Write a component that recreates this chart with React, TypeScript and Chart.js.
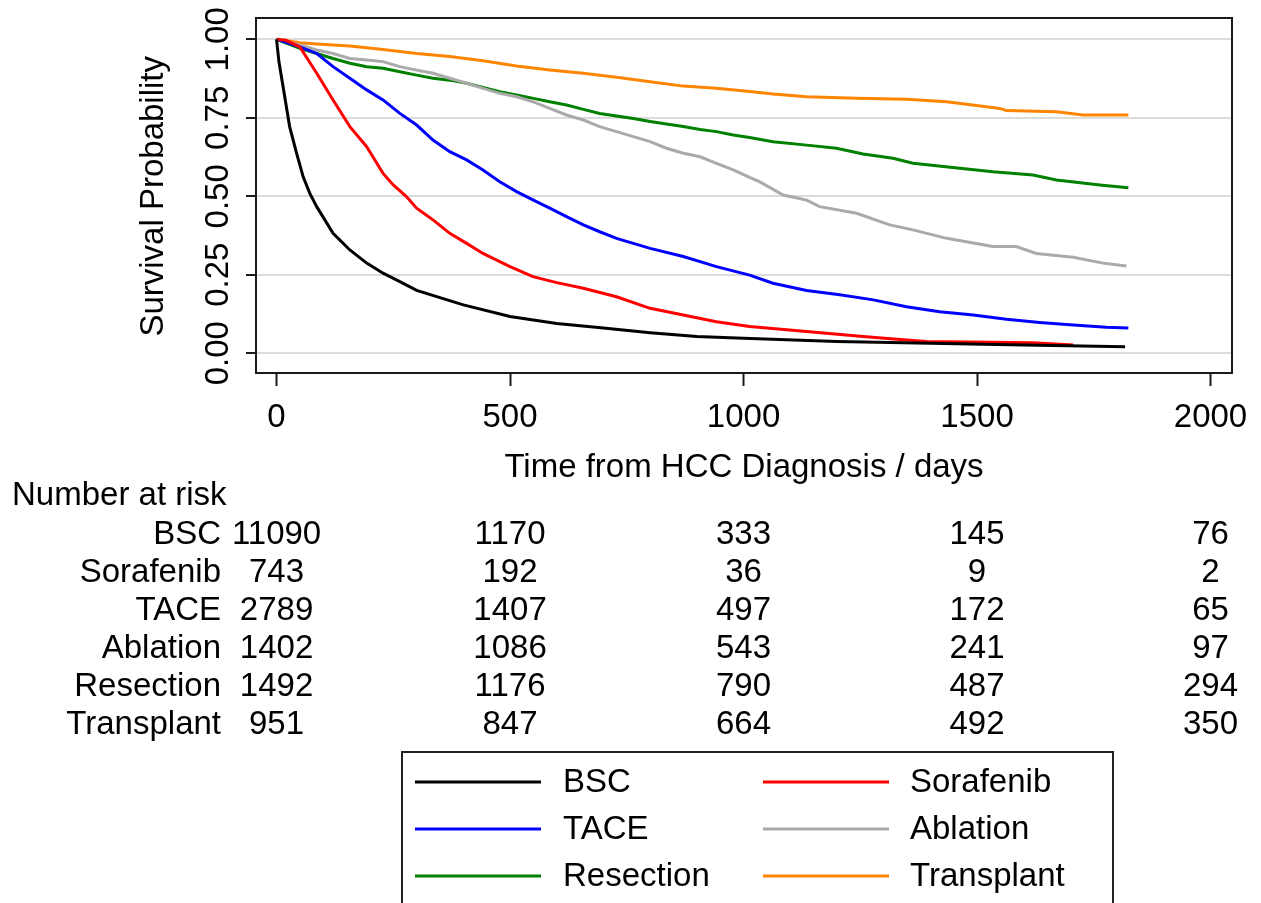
import React, { useEffect, useRef } from "react";
import { Chart, registerables } from "chart.js";

Chart.register(...registerables);

const FONT = '"Liberation Sans", Arial, Helvetica, sans-serif';

// ---- Series data ----
const seriesNames = ["BSC", "Sorafenib", "TACE", "Ablation", "Resection", "Transplant"];
const seriesColors = ["#000000", "#ff0000", "#0000ff", "#aaaaaa", "#008000", "#ff8400"];

const bscTime = [0, 5, 14, 28, 43, 57, 71, 86, 121, 157, 193, 228, 264, 300, 400, 500, 600, 700, 800, 900, 1000, 1200, 1400, 1600, 1817];
const bscSurv = [1.0, 0.93, 0.849, 0.722, 0.637, 0.562, 0.51, 0.467, 0.382, 0.329, 0.287, 0.255, 0.228, 0.2, 0.154, 0.117, 0.095, 0.08, 0.065, 0.053, 0.048, 0.037, 0.032, 0.026, 0.021];

const sorafenibTime = [0, 20, 50, 86, 121, 157, 193, 228, 250, 278, 300, 335, 371, 407, 442, 500, 549, 600, 657, 728, 800, 871, 942, 1013, 1135, 1256, 1349, 1392, 1620, 1706];
const sorafenibSurv = [1.0, 0.997, 0.976, 0.892, 0.807, 0.722, 0.658, 0.573, 0.536, 0.499, 0.462, 0.425, 0.382, 0.35, 0.318, 0.276, 0.244, 0.225, 0.207, 0.18, 0.143, 0.122, 0.1, 0.085, 0.069, 0.053, 0.042, 0.037, 0.033, 0.026];

const taceTime = [0, 50, 86, 121, 157, 193, 228, 264, 300, 335, 371, 407, 442, 478, 514, 550, 585, 621, 657, 692, 728, 764, 800, 871, 942, 1013, 1063, 1135, 1206, 1278, 1349, 1420, 1492, 1563, 1634, 1706, 1777, 1824];
const taceSurv = [1.0, 0.976, 0.955, 0.913, 0.876, 0.839, 0.807, 0.764, 0.727, 0.679, 0.642, 0.616, 0.584, 0.546, 0.515, 0.488, 0.462, 0.435, 0.409, 0.387, 0.366, 0.35, 0.334, 0.308, 0.276, 0.249, 0.223, 0.2, 0.186, 0.17, 0.148, 0.132, 0.122, 0.108, 0.098, 0.09, 0.083, 0.08];

const ablationTime = [0, 50, 86, 121, 157, 193, 228, 264, 300, 335, 371, 407, 442, 478, 514, 550, 585, 621, 657, 692, 728, 764, 800, 835, 871, 907, 942, 978, 1013, 1035, 1085, 1135, 1163, 1242, 1313, 1363, 1435, 1534, 1584, 1627, 1706, 1770, 1820];
const ablationSurv = [1.0, 0.982, 0.966, 0.955, 0.939, 0.934, 0.929, 0.913, 0.902, 0.892, 0.876, 0.86, 0.844, 0.828, 0.817, 0.801, 0.78, 0.759, 0.743, 0.722, 0.706, 0.69, 0.674, 0.653, 0.637, 0.626, 0.605, 0.584, 0.56, 0.546, 0.504, 0.488, 0.467, 0.446, 0.409, 0.393, 0.366, 0.34, 0.34, 0.318, 0.306, 0.287, 0.278];

const resectionTime = [0, 50, 86, 121, 157, 193, 228, 264, 300, 335, 371, 407, 442, 478, 514, 550, 585, 621, 657, 692, 728, 764, 800, 835, 871, 907, 942, 978, 1013, 1063, 1135, 1199, 1256, 1320, 1363, 1463, 1534, 1620, 1670, 1763, 1824];
const resectionSurv = [1.0, 0.971, 0.955, 0.939, 0.924, 0.913, 0.908, 0.897, 0.886, 0.876, 0.87, 0.86, 0.847, 0.833, 0.823, 0.812, 0.801, 0.791, 0.777, 0.764, 0.756, 0.748, 0.738, 0.73, 0.722, 0.713, 0.706, 0.695, 0.687, 0.674, 0.663, 0.653, 0.635, 0.621, 0.605, 0.589, 0.578, 0.568, 0.552, 0.536, 0.527];

const transplantTime = [0, 50, 86, 157, 228, 300, 371, 442, 514, 585, 657, 728, 800, 871, 942, 1013, 1063, 1135, 1242, 1349, 1435, 1549, 1563, 1670, 1727, 1824];
const transplantSurv = [1.0, 0.989, 0.985, 0.979, 0.968, 0.955, 0.945, 0.932, 0.915, 0.902, 0.892, 0.879, 0.865, 0.851, 0.844, 0.834, 0.826, 0.817, 0.812, 0.809, 0.801, 0.78, 0.773, 0.769, 0.759, 0.759];

// ---- Axes ----
const xTickValues = [0, 500, 1000, 1500, 2000];
const xTickLabels = ["0", "500", "1000", "1500", "2000"];
const yTickValues = [0, 0.25, 0.5, 0.75, 1];
const yTickLabels = ["0.00", "0.25", "0.50", "0.75", "1.00"];
const xTitle = "Time from HCC Diagnosis / days";
const yTitle = "Survival Probability";

// ---- Number at risk table ----
const riskHeader = "Number at risk";
const riskTimes = [0, 500, 1000, 1500, 2000];
const bscRisk = [11090, 1170, 333, 145, 76];
const sorafenibRisk = [743, 192, 36, 9, 2];
const taceRisk = [2789, 1407, 497, 172, 65];
const ablationRisk = [1402, 1086, 543, 241, 97];
const resectionRisk = [1492, 1176, 790, 487, 294];
const transplantRisk = [951, 847, 664, 492, 350];

const seriesTimes = [bscTime, sorafenibTime, taceTime, ablationTime, resectionTime, transplantTime];
const seriesSurv = [bscSurv, sorafenibSurv, taceSurv, ablationSurv, resectionSurv, transplantSurv];
const riskRows = [bscRisk, sorafenibRisk, taceRisk, ablationRisk, resectionRisk, transplantRisk];

const W = 1261;
const H = 903;
const TXT = 33;

const overlay = {
  id: "overlay",
  afterDraw(chart: any) {
    const ctx: CanvasRenderingContext2D = chart.ctx;
    const ca = chart.chartArea;
    const xs = chart.scales.x;
    const ys = chart.scales.y;
    ctx.save();
    // plot frame
    ctx.strokeStyle = "#1a1a1a";
    ctx.lineWidth = 2;
    ctx.strokeRect(ca.left, ca.top, ca.right - ca.left, ca.bottom - ca.top);

    ctx.fillStyle = "#000";
    ctx.font = `${TXT}px ${FONT}`;

    // y tick labels (rotated)
    yTickValues.forEach((v, i) => {
      const py = ys.getPixelForValue(v);
      ctx.save();
      ctx.translate(228, py);
      ctx.rotate(-Math.PI / 2);
      ctx.textAlign = "center";
      ctx.textBaseline = "alphabetic";
      ctx.fillText(yTickLabels[i], 0, 0);
      ctx.restore();
    });
    // y title
    ctx.save();
    ctx.translate(163, (ys.getPixelForValue(0) + ys.getPixelForValue(1)) / 2);
    ctx.rotate(-Math.PI / 2);
    ctx.textAlign = "center";
    ctx.textBaseline = "alphabetic";
    ctx.fillText(yTitle, 0, 0);
    ctx.restore();

    // x tick labels
    ctx.textAlign = "center";
    ctx.textBaseline = "alphabetic";
    xTickValues.forEach((v, i) => {
      ctx.fillText(xTickLabels[i], xs.getPixelForValue(v), 427);
    });
    // x title
    ctx.fillText(xTitle, (ca.left + ca.right) / 2, 477);

    // risk table
    ctx.textAlign = "left";
    ctx.fillText(riskHeader, 12, 505);
    riskRows.forEach((row, r) => {
      const by = 544 + r * 38;
      ctx.textAlign = "right";
      ctx.fillText(seriesNames[r], 221, by);
      ctx.textAlign = "center";
      row.forEach((n, c) => {
        ctx.fillText(String(n), xs.getPixelForValue(riskTimes[c]), by);
      });
    });

    // legend
    ctx.strokeStyle = "#222";
    ctx.lineWidth = 2;
    ctx.strokeRect(402, 752, 1113 - 402, 200);
    const ds = chart.data.datasets;
    ds.forEach((d: any, i: number) => {
      const col = i % 2;
      const row = Math.floor(i / 2);
      const ly = 782 + row * 47;
      const lx0 = col === 0 ? 415 : 763;
      const lx1 = lx0 + 126;
      const tx = col === 0 ? 563 : 910;
      ctx.strokeStyle = d.borderColor;
      ctx.lineWidth = 3;
      ctx.beginPath();
      ctx.moveTo(lx0, ly);
      ctx.lineTo(lx1, ly);
      ctx.stroke();
      ctx.fillStyle = "#000";
      ctx.textAlign = "left";
      ctx.textBaseline = "middle";
      ctx.fillText(d.label, tx, ly + 1);
    });
    ctx.restore();
  },
};

export default function App() {
  const ref = useRef<HTMLCanvasElement>(null);
  useEffect(() => {
    const canvas = ref.current;
    if (!canvas) return;
    const chart = new Chart(canvas, {
      type: "line",
      data: {
        datasets: seriesNames.map((name, i) => ({
          label: name,
          data: seriesTimes[i].map((t, j) => ({ x: t, y: seriesSurv[i][j] })),
          borderColor: seriesColors[i],
          backgroundColor: seriesColors[i],
          borderWidth: 3,
          pointRadius: 0,
          tension: 0,
          fill: false,
        })),
      },
      options: {
        responsive: false,
        animation: false,
        devicePixelRatio: 1,
        layout: { padding: { left: 0, top: 18, right: W - 1232, bottom: 0 } },
        plugins: { legend: { display: false }, tooltip: { enabled: false } },
        scales: {
          x: {
            type: "linear",
            position: "bottom",
            min: -44,
            max: 2046,
            afterBuildTicks: (s: any) => {
              s.ticks = xTickValues.map((v) => ({ value: v }));
            },
            afterFit: (s: any) => {
              s.height = H - 373;
            },
            ticks: { display: false },
            border: { display: false },
            grid: {
              display: true,
              drawOnChartArea: false,
              drawTicks: true,
              tickLength: 13,
              tickColor: "#1a1a1a",
              tickWidth: 2,
            },
          },
          y: {
            type: "linear",
            position: "left",
            min: -0.063,
            max: 1.068,
            afterBuildTicks: (s: any) => {
              s.ticks = yTickValues.map((v) => ({ value: v }));
            },
            afterFit: (s: any) => {
              s.width = 256;
            },
            ticks: { display: false },
            border: { display: false },
            grid: {
              display: true,
              color: "#dcdcdc",
              lineWidth: 2,
              drawTicks: true,
              tickLength: 10,
              tickColor: "#1a1a1a",
              tickWidth: 2,
            },
          },
        },
      },
      plugins: [overlay],
    } as any);
    return () => chart.destroy();
  }, []);
  return (
    <div style={{ position: "fixed", left: 0, top: 0, width: W, height: H, background: "#fff", overflow: "hidden" }}>
      <canvas ref={ref} width={W} height={H} style={{ display: "block", width: W, height: H }} />
    </div>
  );
}
